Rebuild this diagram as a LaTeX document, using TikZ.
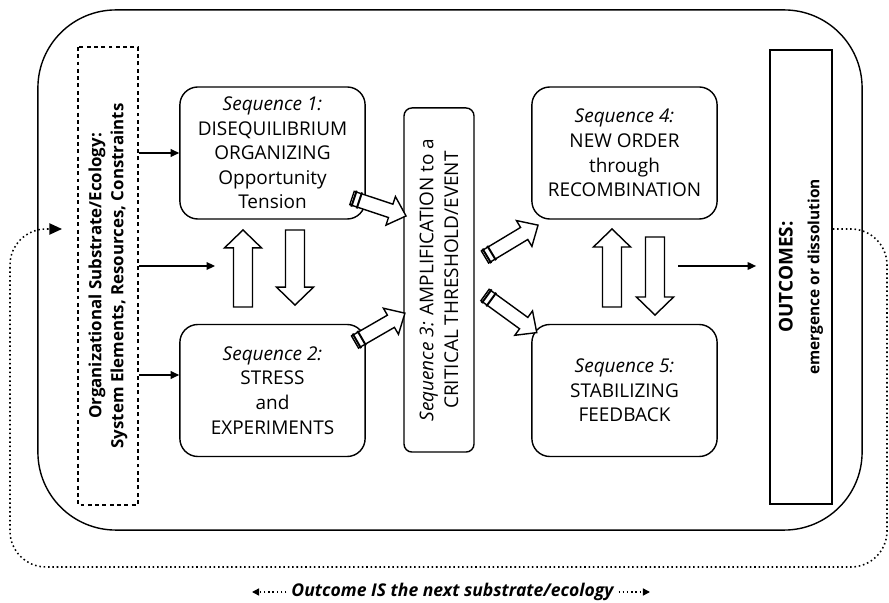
\documentclass[tikz,border=0pt]{standalone}
\usepackage{fontspec}
\setmainfont{Open Sans}
\usetikzlibrary{calc}
\usetikzlibrary{positioning}
\usetikzlibrary{arrows.meta}
\tikzset{
	>={Triangle[length=6pt,width=5.5pt]},
	seqbox/.style={
		rectangle,
		rounded corners=0.45cm,
		draw=black, line width=1pt,
		minimum width=4.63cm,
		minimum height=3.3cm,
		align=center},
	tallbox/.style={
		rectangle,
		draw=black, line width=1pt,
		rotate=90,
		align=center},
	hollow/.style={draw=black, fill=white, line width=1pt, line join=miter},
	line/.style={draw, line width=0.8pt, ->},
	loopline/.style={draw, line width=1.1pt, dotted, rounded corners=0.9cm},
}
% #1 tail, #2 angle, #3 length, #4 half shaft, #5 half head, #6 head length
\newcommand{\fatarrow}[6]{\draw[hollow, shift={(#1)}, rotate=#2]
	(0pt,-#4) -- ({#3-#6},-#4) -- ({#3-#6},-#5) -- (#3,0pt) -- ({#3-#6},#5) -- ({#3-#6},#4) -- (0pt,#4) -- cycle;}
\newcommand{\tailbars}[2]{\draw[line width=1.4pt, shift={(#1)}, rotate=#2] (1.5pt,-6pt) -- (1.5pt,6pt) (5.5pt,-6pt) -- (5.5pt,6pt);}

\begin{document}
\begin{tikzpicture}
	[x=0.025cm, y=-0.025cm, font=\fontsize{13.5}{17.5}\selectfont]
	\useasboundingbox (0,0) rectangle (889,603);
	\node[draw, line width=1pt, rounded corners=1.95cm, minimum width=20.6cm, minimum height=13cm] (outer) at (450,270) {};

	\node[tallbox, dash pattern=on 2.8pt off 2.4pt, line width=1.5pt, minimum width=11.45cm, minimum height=1.5cm, font=\bfseries\fontsize{12}{15.5}\selectfont] (substrate) at (108,276)
		{Organizational Substrate/Ecology:\\System Elements, Resources, Constraints};
	\node[seqbox] (seq1) at (272.5,153) {\textit{Sequence 1:}\\DISEQUILIBRIUM\\ORGANIZING\\Opportunity\\Tension};
	\node[seqbox] (seq2) at (272.5,390.5) {\textit{Sequence 2:}\\STRESS\\and\\EXPERIMENTS};
	\node[tallbox, rounded corners=0.2cm, minimum width=8.6cm, minimum height=1.75cm] (seq3) at (439,280)
		{\textit{Sequence 3:} AMPLIFICATION to a\\CRITICAL THRESHOLD/EVENT};
	\node[seqbox] (seq4) at (624.5,153) {\textit{Sequence 4:}\\NEW ORDER\\through\\RECOMBINATION};
	\node[seqbox] (seq5) at (624.5,390.5) {\textit{Sequence 5:}\\STABILIZING\\FEEDBACK};
	\node[tallbox, minimum width=11.35cm, minimum height=1.55cm, font=\bfseries\fontsize{13.5}{19}\selectfont] (outcomes) at (801,277)
		{OUTCOMES:\\\fontsize{11}{13}\selectfont emergence or dissolution};

	\coordinate (up1) at (243,307);
	\coordinate (down1) at (295,230);
	\coordinate (up2) at (612,307);
	\coordinate (down2) at (655,237);
	\coordinate (amp1) at (352,198);
	\coordinate (amp2) at (355,342);
	\coordinate (new1) at (485,257);
	\coordinate (new2) at (485,295);
	\fatarrow{up1}{90}{54.8pt}{6.75pt}{13.2pt}{12.8pt}
	\fatarrow{down1}{-90}{53.4pt}{6.75pt}{13.2pt}{12.8pt}
	\fatarrow{up2}{90}{55.5pt}{6.75pt}{13.2pt}{12.8pt}
	\fatarrow{down2}{-90}{55.5pt}{6.75pt}{13.2pt}{12.8pt}
	\fatarrow{amp1}{-18.4}{40.5pt}{5pt}{10.7pt}{11.5pt}
	\fatarrow{amp2}{30}{41pt}{5pt}{10.7pt}{11.5pt}
	\fatarrow{new1}{31}{44pt}{5pt}{10.7pt}{11.5pt}
	\fatarrow{new2}{-36}{45.5pt}{5pt}{10.7pt}{11.5pt}
	\tailbars{amp1}{-18.4}
	\tailbars{amp2}{30}
	\tailbars{new1}{31}
	\tailbars{new2}{-36}

	\coordinate (midtip) at (215,266);
	\coordinate (fbstart) at (678,266);
	\draw[line] (substrate.south |- seq1.west) -- (seq1.west);
	\draw[line] (substrate.south |- midtip) -- (midtip);
	\draw[line] (substrate.south |- 0,375) -- (seq2.west |- 0,375);
	\draw[line, shorten >=0.33cm] (fbstart) -- (outcomes.north |- fbstart);

	\coordinate (loopend) at (62,229);
	\draw[loopline, -{Triangle[length=9pt,width=8pt]}] (outcomes.south |- loopend) -- (887,229) -- (887,567) -- (10,567) -- (10,229) -- (loopend);

	\node[font=\bfseries\itshape\fontsize{12.5}{15}\selectfont] (caption) at (452.5,592) {Outcome IS the next substrate/ecology};
	\coordinate (capleft) at (252,592);
	\coordinate (capright) at (650,592);
	\draw[line width=1pt, dotted, -{Triangle[length=5pt,width=5pt]}] (caption.west) -- (capleft);
	\draw[line width=1pt, dotted, -{Triangle[length=5pt,width=5pt]}] (caption.east) -- (capright);
\end{tikzpicture}
\end{document}
